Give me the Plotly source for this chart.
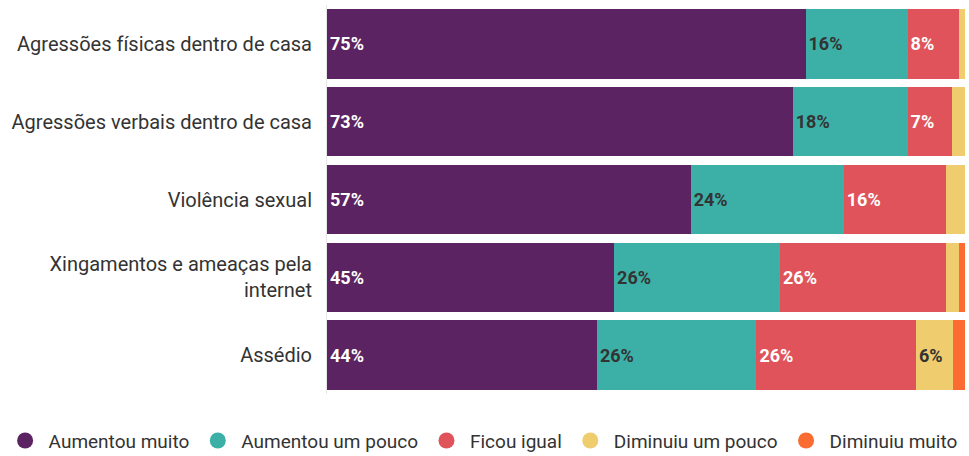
import plotly.graph_objects as go

categories = [
    "Agressões físicas dentro de casa",
    "Agressões verbais dentro de casa",
    "Violência sexual",
    "Xingamentos e ameaças pela<br>internet",
    "Assédio",
]
series_names = ["Aumentou muito", "Aumentou um pouco", "Ficou igual", "Diminuiu um pouco", "Diminuiu muito"]
aumentou_muito = [75, 73, 57, 45, 44]
aumentou_pouco = [16, 18, 24, 26, 26]
ficou_igual = [8, 7, 16, 26, 26]
diminuiu_pouco = [1, 2, 3, 2, 6]
diminuiu_muito = [0, 0, 0, 1, 2]

values = [aumentou_muito, aumentou_pouco, ficou_igual, diminuiu_pouco, diminuiu_muito]
colors = ["#5b2361", "#3cb0a7", "#e1535a", "#efcc6e", "#fb6b32"]
text_colors = ["white", "#333333", "white", "#333333", "#333333"]

fig = go.Figure()
for name, vals, col, tcol in zip(series_names, values, colors, text_colors):
    texts = [f"{v}%" if v >= 5 else "" for v in vals]
    fig.add_trace(go.Bar(
        y=categories, x=vals, orientation="h", name=name,
        marker=dict(color=col, line=dict(width=0)),
        text=texts, textposition="inside", insidetextanchor="start",
        insidetextfont=dict(color=tcol, size=18, family="Roboto", weight="bold"),
        textangle=0, showlegend=False,
    ))
for name, col in zip(series_names, colors):
    fig.add_trace(go.Scatter(
        x=[None], y=[None], mode="markers", name=name,
        marker=dict(color=col, size=16, symbol="circle"),
        showlegend=True,
    ))

fig.update_layout(
    barmode="stack", barnorm="percent", bargap=0.11,
    width=969, height=456,
    margin=dict(l=327, r=4, t=5, b=62, autoexpand=False),
    plot_bgcolor="white", paper_bgcolor="white",
    font=dict(family="Roboto", size=20, color="#333333"),
    legend=dict(
        orientation="h", x=-0.51, xanchor="left",
        y=-0.12, yanchor="middle", traceorder="normal",
        font=dict(size=19, color="#333333"),
        itemsizing="trace", tracegroupgap=0, itemwidth=37,
    ),
    showlegend=True,
)
fig.update_xaxes(range=[0, 100], visible=False, fixedrange=True)
fig.update_yaxes(autorange="reversed", showgrid=False, ticks="", ticklabelstandoff=10,
                 showline=True, linecolor="#e6e6e6", linewidth=1,
                 tickfont=dict(size=20, color="#333333"))

fig.write_html("out.html")
